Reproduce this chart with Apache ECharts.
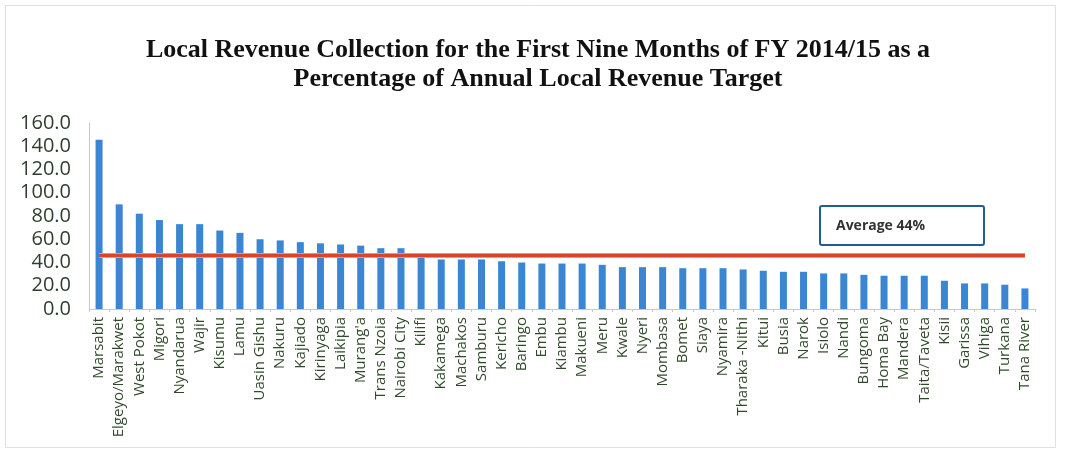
<!DOCTYPE html>
<html>
<head>
<meta charset="utf-8">
<script src="https://cdn.jsdelivr.net/npm/echarts@6/dist/echarts.min.js"></script>
<style>html,body{margin:0;padding:0;background:#fff;}#c{width:1065px;height:452px;}</style>
</head>
<body>
<div id="c"></div>
<script>
const counties = ["Marsabit","Elgeyo/Marakwet","West Pokot","Migori","Nyandarua","Wajir","Kisumu","Lamu","Uasin Gishu","Nakuru","Kajiado","Kirinyaga","Laikipia","Murang'a","Trans Nzoia","Nairobi City","Kilifi","Kakamega","Machakos","Samburu","Kericho","Baringo","Embu","Kiambu","Makueni","Meru","Kwale","Nyeri","Mombasa","Bomet","Siaya","Nyamira","Tharaka -Nithi","Kitui","Busia","Narok","Isiolo","Nandi","Bungoma","Homa Bay","Mandera","Taita/Taveta","Kisii","Garissa","Vihiga","Turkana","Tana River"];
const percentOfTarget = [145.5,90,82,76.5,73,73,67.5,65.5,60,59,57.5,56.5,55.5,54.5,52.3,52.3,45,42.6,42.6,42.6,41.1,40,39.1,39.1,39.1,38,36,36,36,35.1,35.1,35.1,34,32.9,32,32,30.6,30.6,29.4,28.6,28.6,28.6,24.3,22,22,20.9,17.7];
const averageLineValue = 46;
const averageLabel = "Average 44%";
const yTicks = [0,20,40,60,80,100,120,140,160];

const chart = echarts.init(document.getElementById('c'));
chart.setOption({
  animation: false,
  backgroundColor: '#fff',
  title: {
    text: 'Local Revenue Collection for the First Nine Months of FY 2014/15 as a\nPercentage of Annual Local Revenue Target',
    left: 533, top: 31, textAlign: 'center',
    textStyle: {fontFamily: 'Liberation Serif', fontWeight: 'bold', fontSize: 26, lineHeight: 29, color: '#111'}
  },
  graphic: [
    {type: 'rect', shape: {x: 5.5, y: 5.5, width: 1050, height: 442}, style: {fill: 'none', stroke: '#e0e0e0', lineWidth: 1}, silent: true},
    {type: 'rect', shape: {x: 820, y: 206, width: 164, height: 39, r: 2}, style: {fill: '#fff', stroke: '#1f5f8f', lineWidth: 2}, z: 10},
    {type: 'text', x: 836, y: 226, style: {text: averageLabel, fontFamily: 'Open Sans', fontSize: 14, fontWeight: 'bold', fill: '#333', verticalAlign: 'middle'}, z: 11}
  ],
  grid: {left: 89, right: 30, top: 123, bottom: 143, containLabel: false},
  xAxis: {
    type: 'category', data: counties,
    axisLine: {lineStyle: {color: '#c8c8c8'}},
    axisTick: {show: true, alignWithLabel: false, length: 3, lineStyle: {color: '#c8c8c8'}},
    axisLabel: {interval: 0, rotate: 90, fontFamily: 'Open Sans', fontSize: 15, color: '#2f4a2a', margin: 8}
  },
  yAxis: {
    type: 'value', min: 0, max: 160, interval: 20,
    axisLine: {show: true, lineStyle: {color: '#c8c8c8'}},
    axisTick: {show: false},
    splitLine: {show: false},
    axisLabel: {fontFamily: 'Open Sans', fontSize: 20, color: '#2f3f2f', margin: 18,
      formatter: v => yTicks.includes(v) ? v.toFixed(1) : ''}
  },
  series: [{
    type: 'bar', data: percentOfTarget, barWidth: 7,
    itemStyle: {color: '#3a86d2'},
    markLine: {
      silent: true, symbol: 'none', label: {show: false},
      data: [
        [{coord: [counties[0], averageLineValue], lineStyle: {color: '#f0a030', width: 5, type: 'solid'}},
         {coord: [counties[counties.length - 1], averageLineValue]}],
        [{coord: [counties[0], averageLineValue], lineStyle: {color: '#d8442c', width: 3, type: 'solid'}},
         {coord: [counties[counties.length - 1], averageLineValue]}]
      ]
    }
  }]
});
</script>
</body>
</html>
